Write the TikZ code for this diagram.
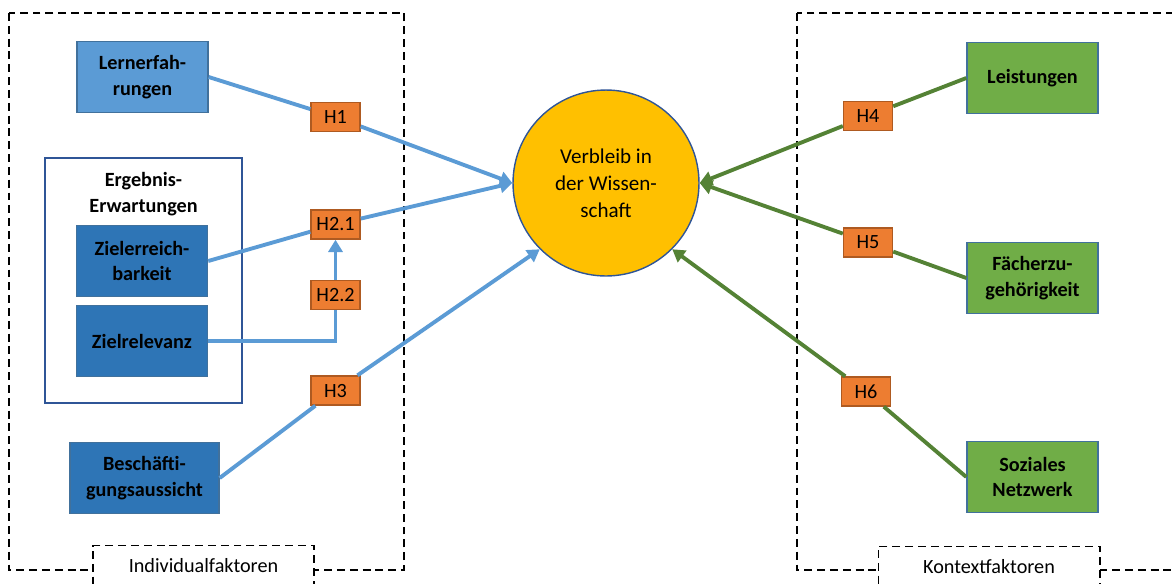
\documentclass[tikz,border=0pt]{standalone}
\usepackage{fontspec}
\setmainfont{Carlito}
\usetikzlibrary{arrows.meta}

\definecolor{lightblue}{HTML}{5B9BD5}
\definecolor{darkblue}{HTML}{2E75B6}
\definecolor{edgeblue}{HTML}{41719C}
\definecolor{leafgreen}{HTML}{70AD47}
\definecolor{linegreen}{HTML}{548235}
\definecolor{hypo}{HTML}{ED7D31}
\definecolor{hypoedge}{HTML}{AE5A21}
\definecolor{gold}{HTML}{FFC000}
\definecolor{frameblue}{HTML}{2F5597}

\begin{document}
\begin{tikzpicture}[x=0.02cm, y=-0.02cm,
    every node/.style={font=\fontsize{11.5}{14.6}\selectfont, align=center, inner sep=0pt},
    factor/.style={draw=edgeblue, line width=0.8pt, minimum width=2.62cm, minimum height=1.42cm,
      font=\fontsize{11.5}{14.6}\selectfont\bfseries},
    hyp/.style={draw=hypoedge, fill=hypo, line width=0.8pt, minimum width=0.98cm, minimum height=0.58cm},
    area/.style={draw, dash pattern=on 4.5pt off 2.8pt, line width=0.6pt},
    blueline/.style={draw=lightblue, line width=2.2pt},
    greenline/.style={draw=linegreen, line width=2.2pt},
    tip/.style={-{Triangle[length=7pt,width=8pt]}}]
      \useasboundingbox (0,0) rectangle (1172,583);

      % Rahmen
      \draw[area] (9,13) rectangle (404,570);
      \draw[area] (797,13) rectangle (1185,570);
      \node[area, fill=white, anchor=north, minimum width=4.42cm, minimum height=0.8cm] (indlabel) at (203.5,545) {Individualfaktoren};
      \node[area, fill=white, anchor=north, minimum width=4.44cm, minimum height=0.8cm] (ktxlabel) at (989,546) {Kontextfaktoren};
      \draw[frameblue, line width=0.9pt] (45,158) rectangle (242,403);
      \node[font=\fontsize{11.5}{14.6}\selectfont\bfseries] (ergtitle) at (143.5,194) {Ergebnis-\\Erwartungen};

      % Faktoren
      \node[factor, fill=lightblue] (lern) at (142.5,77) {Lernerfah-\\rungen};
      \node[factor, fill=darkblue] (ziel1) at (142,261) {Zielerreich-\\barkeit};
      \node[factor, fill=darkblue] (ziel2) at (142,341) {Zielrelevanz};
      \node[factor, fill=darkblue, minimum width=2.98cm] (besch) at (144.5,478) {Beschäfti-\\gungsaussicht};
      \node[factor, fill=leafgreen] (leist) at (1032.5,78) {Leistungen};
      \node[factor, fill=leafgreen] (faecher) at (1032.5,278) {Fächerzu-\\gehörigkeit};
      \node[factor, fill=leafgreen] (sozial) at (1032.5,477) {Soziales\\Netzwerk};

      \node[circle, draw=frameblue, fill=gold, line width=0.8pt, minimum size=3.72cm,
        font=\fontsize{12}{15.5}\selectfont] (verb) at (606,183) {Verbleib in\\der Wissen-\\schaft};

      % Hypothesen
      \node[hyp] (h1) at (335.5,117) {H1};
      \node[hyp] (h21) at (335.5,224.5) {H2.1};
      \node[hyp] (h22) at (335.5,295) {H2.2};
      \node[hyp] (h3) at (335.5,390.5) {H3};
      \node[hyp] (h4) at (868,116) {H4};
      \node[hyp] (h5) at (868,242.5) {H5};
      \node[hyp] (h6) at (866,391.5) {H6};

      \draw[blueline, tip] (lern.east) to (h1) to (verb.west);
      \draw[blueline, tip] (ziel1.east) to (h21) to (verb.west);
      \draw[blueline] (ziel2.east) -| (h22.south);
      \draw[blueline, tip] (h22) to (h21);
      \draw[blueline, tip] (besch.east) to (h3) to (verb.225);
      \draw[greenline, tip] (leist.west) to (h4) to (verb.east);
      \draw[greenline, tip] (faecher.west) to (h5) to (verb.east);
      \draw[greenline, tip] (sozial.west) to (h6) to (verb.-45);
    \end{tikzpicture}
\end{document}
